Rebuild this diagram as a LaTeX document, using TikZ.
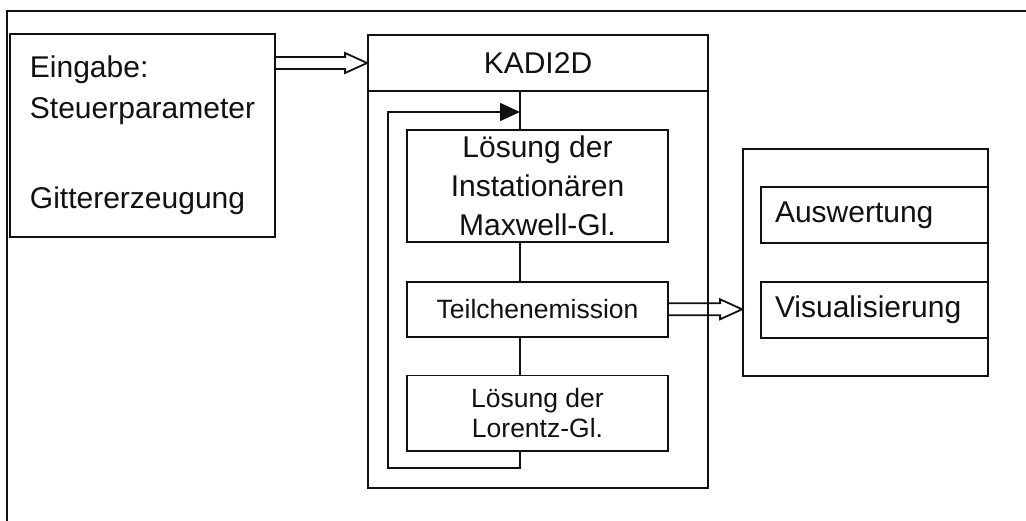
\documentclass[tikz,border=0pt]{standalone}
\usepackage{fontspec}
\setmainfont{Liberation Sans}
\usetikzlibrary{arrows.meta,positioning,calc}
\definecolor{ink}{HTML}{111111}
\newcommand{\bigfont}{\fontsize{30}{39}\selectfont}
\newcommand{\smallfont}{\fontsize{26.5}{30}\selectfont}
\newcommand{\hollowarrow}[2]{%
  \draw[hollow] ($(#1)+(0,-6)$) -- ($(#2)+(-22,-6)$) -- ($(#2)+(-22,-10)$) -- (#2)
    -- ($(#2)+(-22,10)$) -- ($(#2)+(-22,6)$) -- ($(#1)+(0,6)$);}
\tikzset{
  box/.style={draw=ink,line width=1.8pt,fill=white,inner sep=2pt,align=center,font=\bigfont,text=ink},
  leftbox/.style={box,inner xsep=14pt,text width=#1,align=left},
  small/.style={font=\smallfont},
  link/.style={draw=ink,line width=1.8pt},
  feedback/.style={link,-{Triangle[length=20pt,width=18pt]}},
  hollow/.style={draw=ink,line width=1.8pt,line join=miter}
}
\begin{document}
\begin{tikzpicture}[x=1pt,y=-1pt]
    \useasboundingbox (0,0) rectangle (1026,521);
    \draw[link] (1026,11) -- (7,11) -- (7,521);

    \node[box,minimum width=265pt,minimum height=203pt,align=left,font=\fontsize{30}{41}\selectfont] (eingabe) at (142.5,135.5) {Eingabe:\\Steuerparameter\\[49pt]Gittererzeugung};

    \node[box,minimum width=340pt,minimum height=453pt] (kadiframe) at (538,261.5) {};
    \node[box,minimum width=340pt,minimum height=56pt] (kadi) at (538,63) {KADI2D};
    \node[box,minimum width=261pt,minimum height=112pt] (maxwell) at (537.5,186) {Lösung der\\Instationären\\Maxwell-Gl.};
    \node[box,small,below=38pt of maxwell,minimum width=261pt,minimum height=55pt] (teilchen) {Teilchenemission};
    \node[box,small,below=37pt of teilchen,minimum width=261pt,minimum height=75pt] (lorentz) {Lösung der\\Lorentz-Gl.};

    \node[box,minimum width=245pt,minimum height=227pt] (results) at (865.5,262.5) {};
    \node[leftbox=199pt,minimum height=56pt] (auswertung) at (874.5,215) {Auswertung};
    \node[leftbox=199pt,minimum height=56pt] (visual) at (874.5,310) {Visualisierung};

    \coordinate (entry) at (520,112);
    \coordinate (back) at (388,468);
    \draw[link] (kadi.south -| entry) -- (maxwell.north -| entry);
    \draw[link] (maxwell.south -| entry) -- (teilchen.north -| entry);
    \draw[link] (teilchen.south -| entry) -- (lorentz.north -| entry);
    \draw[feedback] (lorentz.south -| entry) |- (back) |- (entry);

    \coordinate (in) at (eingabe.east |- kadi.west);
    \hollowarrow{in}{kadi.west}
    \coordinate (out) at (teilchen.east -| results.west);
    \hollowarrow{teilchen.east}{out}
  \end{tikzpicture}
\end{document}
